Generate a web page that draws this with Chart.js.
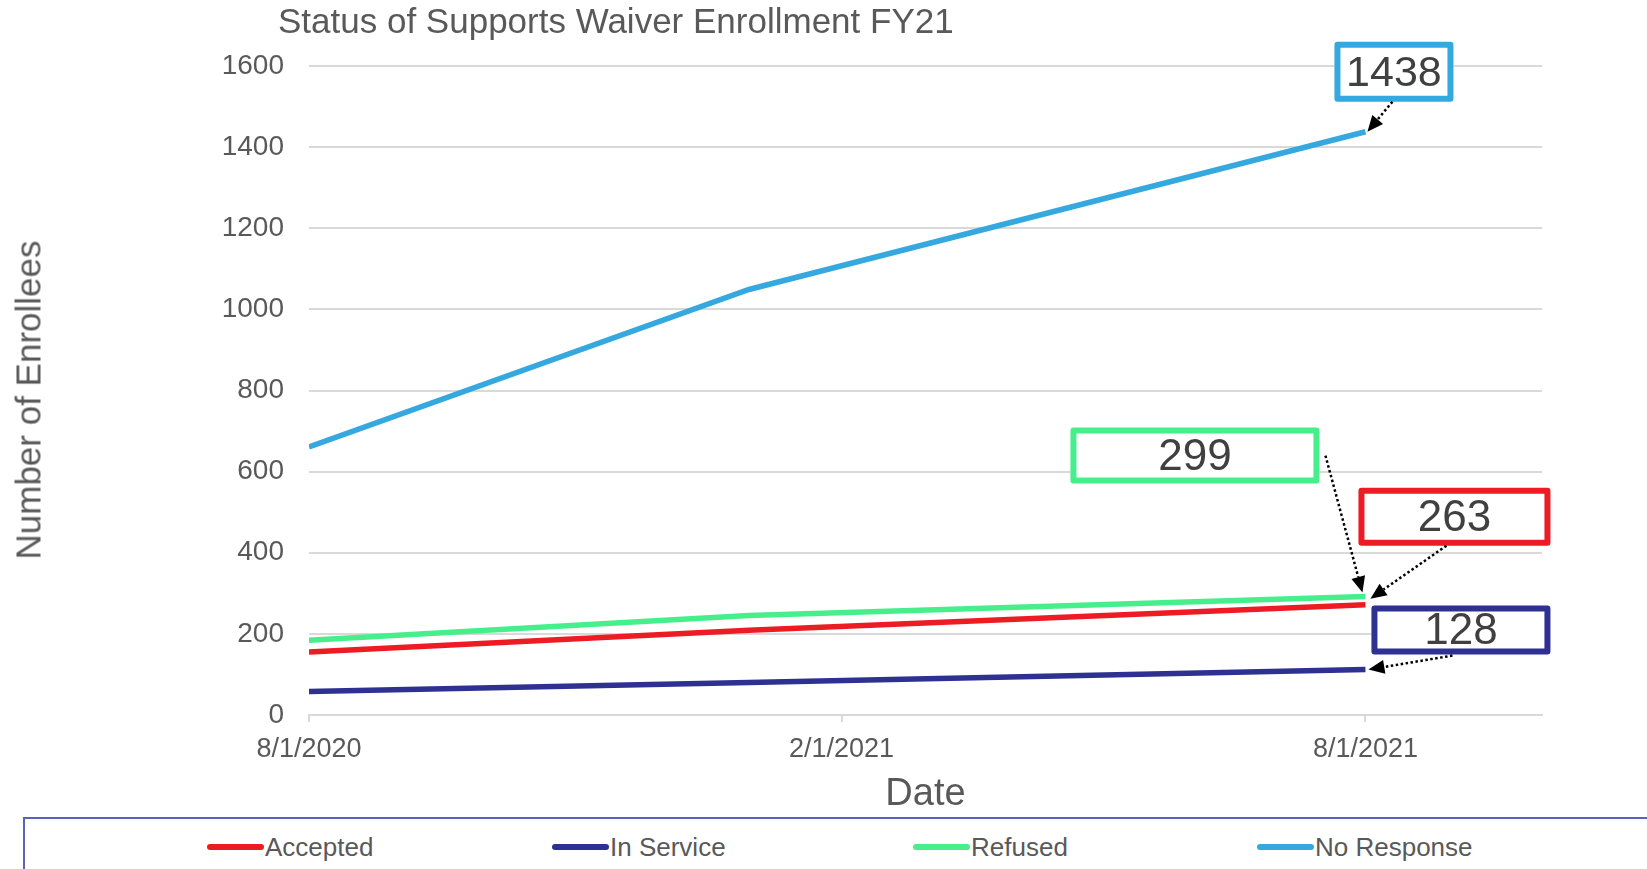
<!DOCTYPE html>
<html>
<head>
<meta charset="utf-8">
<script src="https://cdn.jsdelivr.net/npm/chart.js@4.4.1/dist/chart.umd.min.js"></script>
<style>
  body { margin: 0; background: #fff; overflow: hidden; }
  #wrap { position: relative; width: 1647px; height: 869px; font-family: 'Liberation Sans', Arial, sans-serif; }
  #title { position: absolute; left: 278px; top: 3px; font-size: 35px; line-height: 1; color: #595959; white-space: nowrap; }
  #ytitle { position: absolute; left: 28px; top: 400px; font-size: 35px; line-height: 1; color: #595959; white-space: nowrap;
            transform: translate(-50%, -50%) rotate(-90deg); }
  #chart { position: absolute; left: 0; top: 0; }
  #legend { position: absolute; left: 23px; top: 817px; width: 1660px; height: 70px; border: 2px solid #5b63b7; box-sizing: border-box; }
  .item { position: absolute; top: 13px; font-size: 26px; line-height: 30px; color: #595959; white-space: nowrap; }
  .swatch { display: inline-block; width: 57px; height: 6px; border-radius: 3px; vertical-align: middle; margin-right: 1px; position: relative; top: -2px; }
</style>
</head>
<body>
<div id="wrap">
  <canvas id="chart" width="1647" height="817"></canvas>
  <div id="title">Status of Supports Waiver Enrollment FY21</div>
  <div id="ytitle">Number of Enrollees</div>
  <div id="legend"></div>
</div>
<script>
var dates = ['2020-08-01', '2020-12-31', '2021-08-01'];
var tickDates = ['2020-08-01', '2021-02-01', '2021-08-01'];
var axisEnd = '2021-10-01';

var seriesNames = ['Accepted', 'In Service', 'Refused', 'No Response'];
var accepted = [155, 209, 272];
var inService = [58, 80, 112];
var refused = [184, 245, 292];
var noResponse = [661, 1049, 1438];
var colors = ['#ed1c24', '#2e3192', '#47ef8c', '#35a8df'];

// callout texts shown in the boxes at the last point
var calloutText = ['263', '128', '299', '1438'];

var legendLeft = [182, 527, 888, 1232];

var dayOf = function (s) {
    return (Date.parse(s) - Date.parse(dates[0])) / 86400000;
};
var fmtDate = function (s) {
    var p = s.split('-');
    return (+p[1]) + '/' + (+p[2]) + '/' + p[0];
};

var allSeries = [accepted, inService, refused, noResponse];
var datasets = allSeries.map(function (vals, i) {
    return {
        label: seriesNames[i],
        data: vals.map(function (v, j) { return {x: dayOf(dates[j]), y: v}; }),
        borderColor: colors[i],
        backgroundColor: colors[i],
        borderWidth: 5.5,
        pointRadius: 0,
        tension: 0,
        fill: false
    };
});

// box offsets (px) from the last point of each series, and arrow start
var callouts = [
    {ds: 0, box: [-7, -117, 192, 58], from: [81, -59], to: [5, -6], size: 44},
    {ds: 1, box: [6, -64, 179, 49], from: [87, -14], to: [3, 0], size: 44},
    {ds: 2, box: [-295, -169, 249, 56], from: [-40, -141], to: [-3, -4], size: 44},
    {ds: 3, box: [-31, -90, 119, 60], from: [27, -30], to: [2, 0], size: 43}
];

var calloutPlugin = {
    id: 'callouts',
    afterDatasetsDraw: function (chart) {
        var ctx = chart.ctx;
        var xs = chart.scales.x, ys = chart.scales.y;
        callouts.forEach(function (c) {
            var vals = allSeries[c.ds];
            var last = vals.length - 1;
            var px = xs.getPixelForValue(dayOf(dates[last]));
            var py = ys.getPixelForValue(vals[last]);
            var b = c.box;
            ctx.save();
            // box
            ctx.fillStyle = '#fff';
            ctx.fillRect(px + b[0], py + b[1], b[2], b[3]);
            ctx.strokeStyle = colors[c.ds];
            ctx.lineWidth = 6;
            ctx.lineJoin = 'round';
            ctx.strokeRect(px + b[0] + 3, py + b[1] + 3, b[2] - 6, b[3] - 6);
            ctx.fillStyle = '#404040';
            ctx.font = c.size + 'px "Liberation Sans", Arial, sans-serif';
            ctx.textAlign = 'center';
            ctx.textBaseline = 'middle';
            ctx.fillText(calloutText[c.ds], px + b[0] + b[2] / 2, py + b[1] + b[3] / 2 + 2);
            // dotted arrow
            var x1 = px + c.from[0], y1 = py + c.from[1];
            var x2 = px + c.to[0], y2 = py + c.to[1];
            var ang = Math.atan2(y2 - y1, x2 - x1);
            var hl = 16, hw = 7;
            ctx.strokeStyle = '#000';
            ctx.lineWidth = 2.5;
            ctx.setLineDash([2.5, 2.5]);
            ctx.beginPath();
            ctx.moveTo(x1, y1);
            ctx.lineTo(x2 - Math.cos(ang) * hl, y2 - Math.sin(ang) * hl);
            ctx.stroke();
            ctx.setLineDash([]);
            ctx.fillStyle = '#000';
            ctx.beginPath();
            ctx.moveTo(x2, y2);
            ctx.lineTo(x2 - Math.cos(ang) * hl - Math.sin(ang) * hw, y2 - Math.sin(ang) * hl + Math.cos(ang) * hw);
            ctx.lineTo(x2 - Math.cos(ang) * hl + Math.sin(ang) * hw, y2 - Math.sin(ang) * hl - Math.cos(ang) * hw);
            ctx.closePath();
            ctx.fill();
            ctx.restore();
        });
    }
};

new Chart(document.getElementById('chart'), {
    type: 'line',
    data: {datasets: datasets},
    options: {
        responsive: false,
        animation: false,
        layout: {padding: {top: 66, right: 105, left: 0, bottom: 0}},
        plugins: {
            legend: {display: false},
            tooltip: {enabled: false}
        },
        scales: {
            x: {
                type: 'linear',
                min: 0,
                max: dayOf(axisEnd),
                afterFit: function (s) { s.height = 102; },
                afterBuildTicks: function (s) {
                    s.ticks = tickDates.map(function (d) { return {value: dayOf(d)}; });
                },
                ticks: {
                    autoSkip: false,
                    maxRotation: 0,
                    padding: 11,
                    color: '#595959',
                    font: {size: 27, family: "'Liberation Sans', Arial, sans-serif"},
                    callback: function (v) {
                        for (var i = 0; i < tickDates.length; i++) {
                            if (dayOf(tickDates[i]) === v) return fmtDate(tickDates[i]);
                        }
                        return '';
                    }
                },
                grid: {drawOnChartArea: false, drawTicks: true, tickLength: 7, color: '#d9d9d9', lineWidth: 2},
                border: {display: true, color: '#d9d9d9', width: 2},
                title: {
                    display: true,
                    text: 'Date',
                    color: '#595959',
                    font: {size: 38, family: "'Liberation Sans', Arial, sans-serif"},
                    padding: {top: 0, bottom: 0}
                }
            },
            y: {
                min: 0,
                max: 1600,
                afterFit: function (s) { s.width = 309; },
                ticks: {
                    stepSize: 200,
                    padding: 25,
                    color: '#595959',
                    font: {size: 28, family: "'Liberation Sans', Arial, sans-serif"},
                    callback: function (v) { return String(v); }
                },
                grid: {drawTicks: false, color: '#d9d9d9', lineWidth: 2},
                border: {display: false}
            }
        }
    },
    plugins: [calloutPlugin]
});

var legendEl = document.getElementById('legend');
seriesNames.forEach(function (name, i) {
    var it = document.createElement('div');
    it.className = 'item';
    it.style.left = legendLeft[i] + 'px';
    it.innerHTML = '<span class="swatch" style="background:' + colors[i] + '"></span>' + name;
    legendEl.appendChild(it);
});
</script>
</body>
</html>
